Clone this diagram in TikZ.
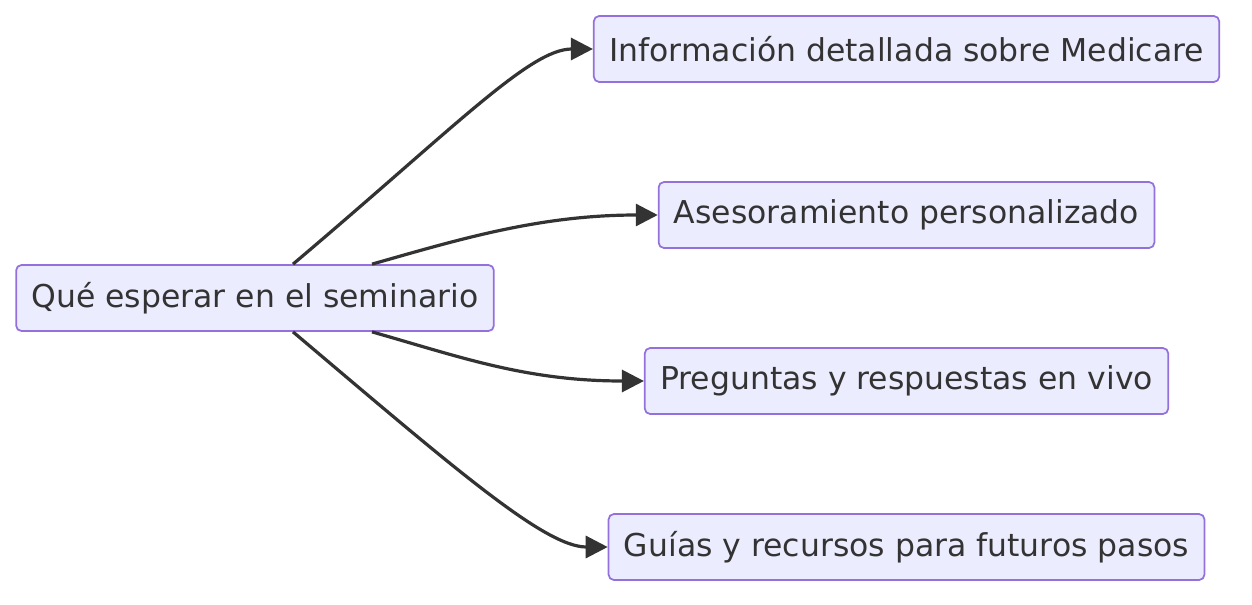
\documentclass[tikz,border=0pt]{standalone}
\usepackage{fontspec}
\setmainfont{DejaVu Sans}
\usetikzlibrary{arrows.meta}
\definecolor{boxfill}{HTML}{ECECFF}
\definecolor{boxline}{HTML}{9370DB}
\definecolor{ink}{HTML}{333333}
\tikzset{
  box/.style={draw=boxline, fill=boxfill, line width=1.3pt, rounded corners=4pt,
    text=ink, font=\fontsize{23.6}{28}\selectfont, inner xsep=11.5pt, minimum height=49.5pt},
  flow/.style={draw=ink, line width=2.4pt, -{Triangle[length=16.5pt,width=16.5pt]}}
}
\begin{document}
\begin{tikzpicture}[x=0.75pt,y=-0.75pt]
      \useasboundingbox (0,0) rectangle (1252,604);
      \node[box](Q) at (255,298) {Qué esperar en el seminario};
      \foreach \i/\y/\t in{1/49/Información detallada sobre Medicare, 2/215/Asesoramiento personalizado,
        3/381/Preguntas y respuestas en vivo, 4/547/Guías y recursos para futuros pasos}{
        \node[box](N\i) at (906.5,\y) {\t};
      }
      \foreach \i/\a/\s/\p/\q/\r in{1/north/38/162/-137/-63, 2/north/117/88/-25/-118,
        3/south/117/88/25/-118, 4/south/38/162/137/-63}{
        \draw[flow]([xshift=\s*0.75pt]Q.\a) .. controls +(\p,\q) and +(\r,0) .. (N\i.west);
      }
    \end{tikzpicture}
\end{document}
